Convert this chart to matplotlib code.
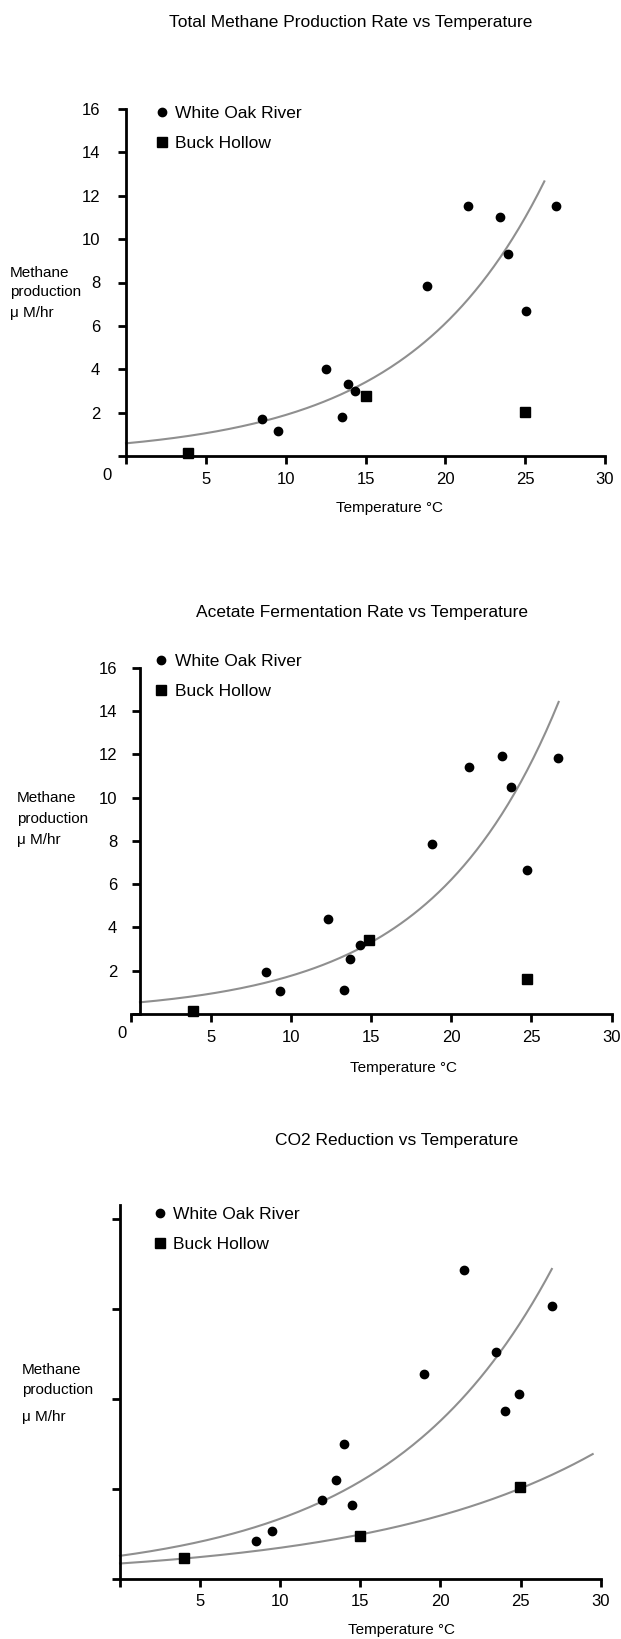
import numpy as np
import matplotlib
matplotlib.use('Agg')
import matplotlib.pyplot as plt

plt.rcParams['font.family'] = ['Liberation Sans', 'DejaVu Sans']

W, H = 621, 1639

titles = ['Total Methane Production Rate vs Temperature',
          'Acetate Fermentation Rate vs Temperature',
          'CO2 Reduction vs Temperature']
site_names = ['White Oak River', 'Buck Hollow']
x_ticks = [0, 5, 10, 15, 20, 25, 30]
x_tick_labels = ['', '5', '10', '15', '20', '25', '30']

# total methane production
tot_wor_t = [8.5, 9.5, 12.5, 13.5, 13.9, 14.35, 18.85, 21.4, 23.4, 23.95, 25.05, 26.9]
tot_wor_rate = [1.7, 1.15, 4.0, 1.8, 3.3, 3.0, 7.85, 11.55, 11.0, 9.3, 6.7, 11.55]
tot_bh_t = [3.9, 15.05, 25.0]
tot_bh_rate = [0.15, 2.75, 2.05]

# acetate fermentation
ace_wor_t = [8.4, 9.3, 12.3, 13.3, 13.7, 14.3, 18.8, 21.1, 23.15, 23.7, 24.75, 26.65]
ace_wor_rate = [1.93, 1.05, 4.38, 1.11, 2.56, 3.2, 7.87, 11.42, 11.9, 10.49, 6.64, 11.83]
ace_bh_t = [3.9, 14.85, 24.7]
ace_bh_rate = [0.15, 3.42, 1.62]

# CO2 reduction (no y scale printed)
co2_wor_t = [8.5, 9.5, 12.6, 13.5, 14.0, 14.5, 19.0, 21.45, 23.45, 24.0, 24.9, 26.95]
co2_wor_rate = [1.65, 2.1, 3.5, 4.4, 6.0, 3.25, 9.1, 13.7, 10.05, 7.45, 8.2, 12.1]
co2_bh_t = [4.0, 15.0, 24.95]
co2_bh_rate = [0.9, 1.9, 4.05]

fig = plt.figure(figsize=(W / 100, H / 100), dpi=100)
fig.patch.set_facecolor('white')


def fx(px):
    return px / W


def fy(py):
    return 1 - py / H


def make_axes(x0, x30, y0, ytop):
    return fig.add_axes([x0 / W, 1 - y0 / H, (x30 - x0) / W, (y0 - ytop) / H])


def exp_trend(ax, t, rate, t_start, t_end):
    # exponential trendline, least squares on log(rate)
    slope, icpt = np.polyfit(t, np.log(rate), 1)
    ts = np.linspace(t_start, t_end, 200)
    ax.plot(ts, np.exp(icpt + slope * ts), color='#8f8f8f', lw=1.5,
            zorder=2, clip_on=False)


def style(ax, ymax, yticks, ylabels, ypad, yspine=0):
    ax.set_xlim(0, 30)
    ax.set_ylim(0, ymax)
    ax.patch.set_alpha(0)
    for s in ['top', 'right']:
        ax.spines[s].set_visible(False)
    for s in ['left', 'bottom']:
        ax.spines[s].set_linewidth(2)
    ax.spines['left'].set_position(('data', yspine))
    ax.set_xticks(x_ticks)
    ax.set_xticklabels(x_tick_labels)
    ax.set_yticks(yticks)
    ax.set_yticklabels(ylabels)
    ax.tick_params(direction='out', length=5.5, width=2, labelsize=12,
                   colors='black')
    ax.tick_params(axis='y', pad=ypad)
    ax.tick_params(axis='x', pad=6)


def points(ax, wt, wr, bt, br):
    ax.plot(wt, wr, 'o', color='black', ms=6, zorder=3, clip_on=False,
            label=site_names[0])
    ax.plot(bt, br, 's', color='black', ms=6.5, zorder=3, clip_on=False,
            label=site_names[1])


def key(ax, left, top):
    ax.legend(loc='upper left', bbox_to_anchor=(fx(left), fy(top)),
              bbox_transform=fig.transFigure, frameon=False, borderpad=0,
              borderaxespad=0, handlelength=0.6, handletextpad=0.47,
              labelspacing=0.9, fontsize=12.5, numpoints=1)


def ylab(x, ys):
    for txt, y in zip(['Methane', 'production', 'μ M/hr'], ys):
        fig.text(fx(x), fy(y), txt, ha='left', va='center', fontsize=11)


yt16 = [0, 2, 4, 6, 8, 10, 12, 14, 16]
yl16 = [''] + [str(v) for v in yt16[1:]]

# Panel 1
ax1 = make_axes(126, 605, 456, 109)
style(ax1, 16, yt16, yl16, ypad=13)
points(ax1, tot_wor_t, tot_wor_rate, tot_bh_t, tot_bh_rate)
exp_trend(ax1, tot_wor_t, tot_wor_rate, 0, 26.2)
key(ax1, 156.3, 105.5)
fig.text(fx(351), fy(22), titles[0], ha='center', va='center', fontsize=12.5)
fig.text(fx(389), fy(508), 'Temperature °C', ha='center', va='center', fontsize=11)
fig.text(fx(107), fy(475), '0', ha='center', va='center', fontsize=12)
ylab(10, [272.7, 292, 313])

# Panel 2
ax2 = make_axes(131, 611.5, 1014, 667.7)
style(ax2, 16, yt16, yl16, ypad=11, yspine=0.56)
points(ax2, ace_wor_t, ace_wor_rate, ace_bh_t, ace_bh_rate)
exp_trend(ax2, ace_wor_t, ace_wor_rate, 0.56, 26.7)
key(ax2, 156, 653.5)
fig.text(fx(362), fy(613), titles[1], ha='center', va='center', fontsize=12.5)
fig.text(fx(404), fy(1068), 'Temperature °C', ha='center', va='center', fontsize=11)
fig.text(fx(121.7), fy(1033), '0', ha='center', va='center', fontsize=12)
ylab(17, [798, 819, 840])

# Panel 3
ax3 = make_axes(120, 600.7, 1578.5, 1205)
style(ax3, 16.6, [0, 4, 8, 12, 16], [''] * 5, ypad=11)
points(ax3, co2_wor_t, co2_wor_rate, co2_bh_t, co2_bh_rate)
exp_trend(ax3, co2_wor_t, co2_wor_rate, 0, 26.95)
exp_trend(ax3, co2_bh_t, co2_bh_rate, 0, 29.5)
key(ax3, 154.8, 1206.5)
fig.text(fx(397), fy(1141), titles[2], ha='center', va='center', fontsize=12.5)
fig.text(fx(402), fy(1630), 'Temperature °C', ha='center', va='center', fontsize=11)
ylab(22, [1370, 1390, 1417])

fig.savefig('out.png', dpi=100, facecolor='white')
